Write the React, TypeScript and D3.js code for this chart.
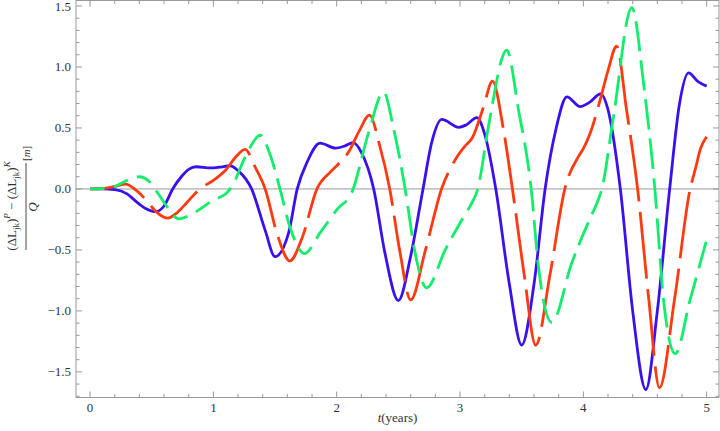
import React, { useLayoutEffect, useRef, useState } from 'react';
import * as d3 from 'd3';

// Data: [t (years), value (m)]
const blueSeries: [number, number][] = [
  [0, 0], [0.1, 0], [0.2, -0.005], [0.3, -0.04], [0.37, -0.1], [0.45, -0.16], [0.535, -0.186],
  [0.6, -0.14], [0.67, 0], [0.74, 0.1], [0.8, 0.16], [0.86, 0.182], [0.98, 0.172], [1.05, 0.178],
  [1.135, 0.19], [1.2, 0.15], [1.31, 0], [1.42, -0.34], [1.5, -0.555], [1.61, -0.36], [1.68, 0],
  [1.76, 0.22], [1.865, 0.375], [1.99, 0.335], [2.06, 0.35], [2.135, 0.38], [2.2, 0.3], [2.3, 0],
  [2.39, -0.52], [2.5, -0.915], [2.6, -0.55], [2.7, 0], [2.77, 0.38], [2.852, 0.57], [2.99, 0.505],
  [3.05, 0.525], [3.136, 0.585], [3.2, 0.45], [3.29, 0], [3.4, -0.78], [3.5, -1.28], [3.6, -0.78],
  [3.69, 0], [3.78, 0.5], [3.866, 0.755], [3.975, 0.675], [4.05, 0.71], [4.14, 0.78], [4.2, 0.65],
  [4.3, 0], [4.4, -1.0], [4.507, -1.645], [4.6, -1.0], [4.7, 0], [4.78, 0.7], [4.853, 0.952],
  [4.93, 0.88], [5.0, 0.843],
];

const redSeries: [number, number][] = [
  [0, 0], [0.1, 0.003], [0.2, 0.02], [0.29, 0.04], [0.37, -0.008], [0.454, -0.09], [0.535, -0.186],
  [0.63, -0.24], [0.7, -0.2], [0.78, -0.117], [0.89, 0], [1.0, 0.07], [1.1, 0.155], [1.18, 0.26],
  [1.257, 0.325], [1.338, 0.18], [1.42, 0], [1.52, -0.38], [1.62, -0.59], [1.72, -0.4], [1.84, 0],
  [1.95, 0.14], [2.01, 0.2], [2.095, 0.3], [2.18, 0.47], [2.266, 0.605], [2.35, 0.35], [2.43, 0],
  [2.51, -0.5], [2.6, -0.91], [2.72, -0.5], [2.85, 0], [2.96, 0.237], [3.04, 0.35], [3.1, 0.42],
  [3.19, 0.67], [3.263, 0.884], [3.35, 0.5], [3.425, 0], [3.52, -0.7], [3.614, -1.282], [3.73, -0.7],
  [3.85, 0], [3.96, 0.265], [4.0, 0.33], [4.055, 0.456], [4.136, 0.728], [4.2, 0.97], [4.27, 1.17],
  [4.35, 0.65], [4.44, 0], [4.53, -0.9], [4.617, -1.63], [4.74, -0.9], [4.866, 0], [4.91, 0.17],
  [4.95, 0.33], [5.0, 0.428],
];

const greenSeries: [number, number][] = [
  [0, 0], [0.1, 0.003], [0.2, 0.02], [0.3, 0.07], [0.4, 0.1], [0.47, 0.07], [0.56, -0.05],
  [0.62, -0.14], [0.72, -0.245], [0.8, -0.22], [0.886, -0.17], [1.0, -0.09], [1.1, -0.04],
  [1.15, 0.02], [1.257, 0.26], [1.38, 0.44], [1.46, 0.28], [1.54, 0], [1.62, -0.31], [1.74, -0.53],
  [1.865, -0.36], [2.01, -0.16], [2.12, -0.035], [2.257, 0.456], [2.38, 0.796], [2.46, 0.5],
  [2.555, 0], [2.636, -0.526], [2.73, -0.81], [2.88, -0.5], [3.04, -0.21], [3.095, -0.117],
  [3.144, 0], [3.23, 0.51], [3.379, 1.137], [3.474, 0.65], [3.577, 0], [3.636, -0.636],
  [3.744, -1.094], [3.906, -0.608], [4.055, -0.24], [4.11, -0.117], [4.15, 0], [4.244, 0.59],
  [4.393, 1.487], [4.49, 0.85], [4.58, 0], [4.65, -0.908], [4.745, -1.35], [4.866, -0.908],
  [5.0, -0.417],
];

const xTickValues = [0, 1, 2, 3, 4, 5];
const xTickLabels = ['0', '1', '2', '3', '4', '5'];
const yTickValues = [-1.5, -1.0, -0.5, 0, 0.5, 1.0, 1.5];
const yTickLabels = ['\u22121.5', '\u22121.0', '\u22120.5', '0.0', '0.5', '1.0', '1.5'];

const W = 720;
const H = 431;
const frame = { left: 76, right: 719, top: 0.5, bottom: 397.5 };
const xDomain: [number, number] = [-0.114, 5.1];
const yDomain: [number, number] = [-1.71, 1.545];

const frameColor = '#999999';
const textColor = '#333333';
const serif = '"Liberation Serif", "DejaVu Serif", Times, serif';

// Dash pattern whose dash length is measured with vertical distances compressed by k
function computeDash(p: SVGPathElement, dash: number, gap: number, k: number): string {
  const total = p.getTotalLength();
  const step = 0.5;
  const arr: number[] = [];
  let on = true;
  let acc = 0;
  let segStart = 0;
  let prev = p.getPointAtLength(0);
  for (let s = step; s <= total; s += step) {
    const pt = p.getPointAtLength(s);
    const dx = pt.x - prev.x;
    const dy = pt.y - prev.y;
    const inc = on ? Math.sqrt(dx * dx + (dy / k) * (dy / k)) : Math.sqrt(dx * dx + dy * dy);
    acc += inc;
    if (acc >= (on ? dash : gap)) {
      arr.push(s - segStart);
      segStart = s;
      acc = 0;
      on = !on;
    }
    prev = pt;
  }
  arr.push(total - segStart + 2);
  if (arr.length % 2 === 1) arr.push(50);
  return arr.map((v) => v.toFixed(2)).join(' ');
}

export default function App() {
  const x = d3.scaleLinear().domain(xDomain).range([frame.left, frame.right]);
  const y = d3.scaleLinear().domain(yDomain).range([frame.bottom, frame.top]);
  const line = d3
    .line<[number, number]>()
    .x((d) => x(d[0]))
    .y((d) => y(d[1]))
    .curve(d3.curveMonotoneX);

  const redRef = useRef<SVGPathElement>(null);
  const greenRef = useRef<SVGPathElement>(null);
  const [redDash, setRedDash] = useState('62 11');
  const [greenDash, setGreenDash] = useState('20 10');

  useLayoutEffect(() => {
    if (redRef.current) setRedDash(computeDash(redRef.current, 58, 10, 1.15));
    if (greenRef.current) setGreenDash(computeDash(greenRef.current, 14, 9, 2.2));
  }, []);

  const xMinor = d3.range(0, 5.0001, 0.2).filter((v) => Math.abs(v - Math.round(v)) > 1e-6);
  const yMinor = d3.range(-17, 16, 1).map((v) => v / 10).filter((v) => Math.abs(v * 2 - Math.round(v * 2)) > 1e-6);

  const majorLen = 6;
  const minorLen = 3.5;

  return (
    <svg width={W} height={H} style={{ position: 'fixed', left: 0, top: 0, background: '#fff' }}>
      <rect x={0} y={0} width={W} height={H} fill="#fff" />
      {/* zero line */}
      <line x1={frame.left} x2={frame.right} y1={y(0)} y2={y(0)} stroke="#999" strokeWidth={1} />

      {/* series */}
      <path d={line(blueSeries) || ''} fill="none" stroke="#3a10ee" strokeWidth={2.8} strokeLinejoin="round" />
      <path ref={redRef} d={line(redSeries) || ''} fill="none" stroke="#ff3a10" strokeWidth={2.8} strokeDasharray={redDash} />
      <path ref={greenRef} d={line(greenSeries) || ''} fill="none" stroke="#12ee6c" strokeWidth={2.8} strokeDasharray={greenDash} />

      {/* frame */}
      <rect x={frame.left} y={frame.top} width={frame.right - frame.left} height={frame.bottom - frame.top} fill="none" stroke={frameColor} strokeWidth={1} />

      {/* x ticks */}
      {xTickValues.map((v) => (
        <g key={'xt' + v}>
          <line x1={x(v)} x2={x(v)} y1={frame.bottom} y2={frame.bottom - majorLen} stroke={frameColor} />
          <line x1={x(v)} x2={x(v)} y1={frame.top} y2={frame.top + majorLen} stroke={frameColor} />
        </g>
      ))}
      {xMinor.map((v) => (
        <g key={'xm' + v}>
          <line x1={x(v)} x2={x(v)} y1={frame.bottom} y2={frame.bottom - minorLen} stroke={frameColor} />
          <line x1={x(v)} x2={x(v)} y1={frame.top} y2={frame.top + minorLen} stroke={frameColor} />
        </g>
      ))}
      {xTickValues.map((v, i) => (
        <text key={'xl' + v} x={x(v)} y={412} textAnchor="middle" fontFamily={serif} fontSize={13} fill={textColor}>
          {xTickLabels[i]}
        </text>
      ))}

      {/* y ticks */}
      {yTickValues.map((v) => (
        <g key={'yt' + v}>
          <line x1={frame.left} x2={frame.left + majorLen} y1={y(v)} y2={y(v)} stroke={frameColor} />
          <line x1={frame.right} x2={frame.right - majorLen} y1={y(v)} y2={y(v)} stroke={frameColor} />
        </g>
      ))}
      {yMinor.map((v) => (
        <g key={'ym' + v}>
          <line x1={frame.left} x2={frame.left + minorLen} y1={y(v)} y2={y(v)} stroke={frameColor} />
          <line x1={frame.right} x2={frame.right - minorLen} y1={y(v)} y2={y(v)} stroke={frameColor} />
        </g>
      ))}
      {yTickValues.map((v, i) => (
        <text key={'yl' + v} x={71} y={Math.max(y(v) + 4.5, 11)} textAnchor="end" fontFamily={serif} fontSize={13} fill={textColor}>
          {yTickLabels[i]}
        </text>
      ))}

      {/* x label */}
      <text x={(frame.left + frame.right) / 2} y={422} textAnchor="middle" fontFamily={serif} fontSize={13} fill={textColor}>
        <tspan fontStyle="italic">t</tspan>(years)
      </text>

      {/* y label */}
      <g transform={`translate(26,${(frame.top + frame.bottom) / 2}) rotate(-90)`} fontFamily={serif} fill={textColor}>
        <text x={-7} y={-10.5} textAnchor="middle" fontSize={13}>
          (ΔL<tspan dy={3} fontSize={9}>jk</tspan>
          <tspan dy={-3}>)</tspan>
          <tspan dy={-6} fontSize={9} fontStyle="italic">P</tspan>
          <tspan dy={6}>{' \u2212 (ΔL'}</tspan>
          <tspan dy={3} fontSize={9}>jk</tspan>
          <tspan dy={-3}>)</tspan>
          <tspan dy={-6} fontSize={9} fontStyle="italic">K</tspan>
        </text>
        <line x1={-51} x2={36} y1={0} y2={0} stroke={textColor} strokeWidth={0.9} />
        <text x={-8} y={11} textAnchor="middle" fontSize={13} fontStyle="italic">Q</text>
        <text x={38} y={4} fontSize={11}>
          [<tspan fontStyle="italic">m</tspan>]
        </text>
      </g>
    </svg>
  );
}
